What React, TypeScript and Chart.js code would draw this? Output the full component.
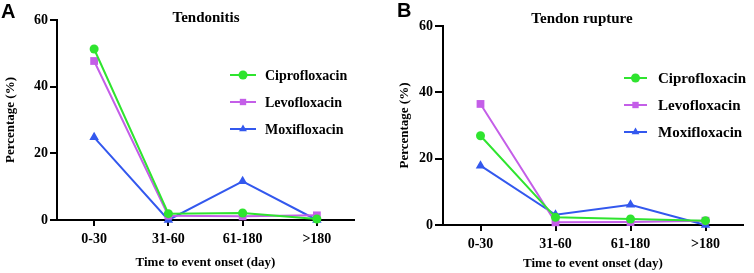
import React, { useEffect, useRef } from 'react';
import { Chart, registerables } from 'chart.js';
Chart.register(...registerables);

const categories = ['0-30', '31-60', '61-180', '>180'];
const yTickValues = [0, 20, 40, 60];
const seriesNames = ['Ciprofloxacin', 'Levofloxacin', 'Moxifloxacin'];
const seriesColors = ['#2fe42f', '#c45ee8', '#3358ee'];
const seriesStyles = ['circle', 'rect', 'triangle'];

const tendonitisCipro = [51.3, 1.9, 2.1, 0.3];
const tendonitisLevo = [47.7, 1.3, 1.1, 1.4];
const tendonitisMoxi = [24.8, 0.0, 11.6, 0.0];

const ruptureCipro = [26.9, 2.3, 1.8, 1.3];
const ruptureLevo = [36.5, 0.8, 0.9, 1.3];
const ruptureMoxi = [17.9, 3.1, 6.1, 0.0];

const SERIF = '"Liberation Serif", "Times New Roman", serif';

function drawMarker(ctx, style, x, y, r) {
  ctx.beginPath();
  if (style === 'circle') {
    ctx.arc(x, y, r, 0, Math.PI * 2);
  } else if (style === 'rect') {
    const s = r * Math.SQRT1_2;
    ctx.rect(x - s, y - s, 2 * s, 2 * s);
  } else {
    ctx.moveTo(x, y - r);
    ctx.lineTo(x + r * 0.866, y + r * 0.5);
    ctx.lineTo(x - r * 0.866, y + r * 0.5);
    ctx.closePath();
  }
  ctx.fill();
}

const decor = {
  id: 'decor',
  afterDraw(chart, _args, o) {
    const ctx = chart.ctx;
    ctx.save();
    ctx.fillStyle = '#000';
    ctx.textAlign = 'left';
    ctx.textBaseline = 'alphabetic';
    ctx.font = 'bold 20px "Liberation Sans", Arial, sans-serif';
    ctx.fillText(o.letter, o.letterX, o.letterY);
    ctx.font = `bold ${o.titleSize}px ${SERIF}`;
    ctx.textAlign = 'center';
    ctx.fillText(o.title, o.titleX, o.titleY);
    chart.data.datasets.forEach((ds, i) => {
      const y = o.legendY + i * o.legendGap;
      ctx.strokeStyle = ds.borderColor;
      ctx.fillStyle = ds.borderColor;
      ctx.lineWidth = 2;
      ctx.beginPath();
      ctx.moveTo(o.legendX, y);
      ctx.lineTo(o.legendX + o.legendLen, y);
      ctx.stroke();
      drawMarker(ctx, ds.pointStyle, o.legendX + o.legendLen / 2, y, o.legendMarker);
      ctx.fillStyle = '#000';
      ctx.textAlign = 'left';
      ctx.textBaseline = 'middle';
      ctx.font = `bold ${o.legendSize}px ${SERIF}`;
      ctx.fillText(ds.label, o.legendX + o.legendLen + o.textGap, y + 1);
    });
    ctx.restore();
  },
};

function makeConfig(values, p) {
  const datasets = values.map((v, i) => ({
    label: seriesNames[i],
    data: v,
    borderColor: seriesColors[i],
    backgroundColor: seriesColors[i],
    pointStyle: seriesStyles[i],
    pointRadius: i === 0 ? 4.5 : 5.5,
    pointBorderWidth: 0,
    borderWidth: 2,
    tension: 0,
    clip: false,
  }));
  return {
    type: 'line',
    data: { labels: categories, datasets },
    plugins: [decor],
    options: {
      animation: false,
      responsive: false,
      maintainAspectRatio: false,
      layout: { padding: { top: p.top, left: 0, right: p.right, bottom: 0 } },
      plugins: {
        legend: { display: false },
        tooltip: { enabled: false },
        title: { display: false },
        decor: p.decor,
      },
      scales: {
        x: {
          type: 'category',
          offset: true,
          border: { display: true, color: '#000', width: 2 },
          grid: { display: true, drawOnChartArea: false, drawTicks: true, tickLength: 6, color: '#000', lineWidth: 2 },
          ticks: { color: '#000', padding: p.xTickPad, font: { family: SERIF, size: 14, weight: 'bold' } },
          title: {
            display: true,
            text: 'Time to event onset (day)',
            color: '#000',
            font: { family: SERIF, size: 13, weight: 'bold' },
            padding: { top: 0, bottom: p.xTitlePad },
          },
          afterFit: (s) => { s.height = p.xHeight; },
        },
        y: {
          min: 0,
          max: 60,
          border: { display: true, color: '#000', width: 2 },
          grid: { display: true, drawOnChartArea: false, drawTicks: true, tickLength: p.yTickLen, color: '#000', lineWidth: 2 },
          ticks: {
            color: '#000',
            padding: 2,
            stepSize: 20,
            font: { family: SERIF, size: 14, weight: 'bold' },
            callback: (v) => (yTickValues.includes(v) ? String(v) : ''),
          },
          title: {
            display: true,
            text: 'Percentage (%)',
            color: '#000',
            font: { family: SERIF, size: 13, weight: 'bold' },
            padding: { top: p.yTitlePad, bottom: 0 },
          },
          afterFit: (s) => { s.width = p.yWidth; },
        },
      },
    },
  };
}

function Panel({ values, p, left }) {
  const ref = useRef(null);
  useEffect(() => {
    const chart = new Chart(ref.current, makeConfig(values, p));
    return () => chart.destroy();
  }, []);
  return (
    <canvas
      ref={ref}
      width={377}
      height={273}
      style={{ position: 'absolute', left, top: 0, width: 377, height: 273 }}
    />
  );
}

const panelA = {
  top: 20, right: 23, xHeight: 53, yWidth: 57, xTitlePad: 3, yTitlePad: 3, yTickLen: 7, xTickPad: 5,
  decor: {
    letter: 'A', letterX: 1, letterY: 18,
    title: 'Tendonitis', titleSize: 15, titleX: 206, titleY: 22,
    legendX: 230, legendY: 75, legendGap: 27, legendLen: 26, textGap: 9, legendSize: 14, legendMarker: 4.5,
  },
};

const panelB = {
  top: 26, right: 11, xHeight: 48, yWidth: 66, xTitlePad: 2, yTitlePad: 20, yTickLen: 8, xTickPad: 5,
  decor: {
    letter: 'B', letterX: 20, letterY: 17,
    title: 'Tendon rupture', titleSize: 15, titleX: 205, titleY: 23,
    legendX: 247, legendY: 78, legendGap: 27, legendLen: 23, textGap: 11, legendSize: 15, legendMarker: 4.5,
  },
};

export default function App() {
  return (
    <div style={{ position: 'absolute', left: 0, top: 0, width: 754, height: 273, background: '#fff' }}>
      <Panel values={[tendonitisCipro, tendonitisLevo, tendonitisMoxi]} p={panelA} left={0} />
      <Panel values={[ruptureCipro, ruptureLevo, ruptureMoxi]} p={panelB} left={377} />
    </div>
  );
}
